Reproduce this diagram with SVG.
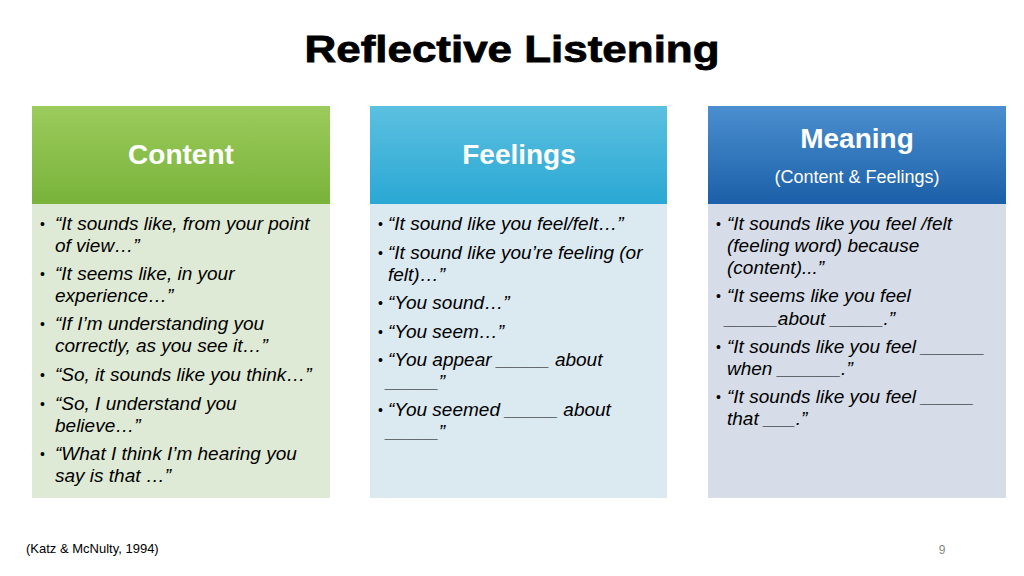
<svg xmlns="http://www.w3.org/2000/svg" width="1024" height="576" viewBox="0 0 1024 576">
<defs>
<linearGradient id="g1" x1="0" y1="0" x2="0" y2="1"><stop offset="0" stop-color="#9bcb5c"/><stop offset="1" stop-color="#79b33a"/></linearGradient>
<linearGradient id="g2" x1="0" y1="0" x2="0" y2="1"><stop offset="0" stop-color="#5cc0e0"/><stop offset="1" stop-color="#2aa8d4"/></linearGradient>
<linearGradient id="g3" x1="0" y1="0" x2="0" y2="1"><stop offset="0" stop-color="#4b8fd0"/><stop offset="1" stop-color="#1b5fa8"/></linearGradient>
</defs>
<style>
text{font-family:"Liberation Sans",Arial,sans-serif}
.h{font-size:28px;font-weight:bold;fill:#fff;text-anchor:middle}
.b{font-size:19px;font-style:italic;fill:#000}
.d{font-size:14px;fill:#000}
</style>
<rect width="1024" height="576" fill="#fff"/>
<text x="512" y="62" text-anchor="middle" textLength="415" lengthAdjust="spacingAndGlyphs" style="font-size:37px;font-weight:bold;fill:#000;stroke:#000;stroke-width:0.8">Reflective Listening</text>
<g id="content">
<rect x="32" y="106" width="298" height="98" fill="url(#g1)"/>
<rect x="32" y="204" width="298" height="294" fill="#dfead6"/>
<text class="h" x="181" y="164">Content</text>
<g class="d"><text x="40" y="229">•</text><text x="40" y="279">•</text><text x="40" y="329">•</text><text x="40" y="380">•</text><text x="40" y="409">•</text><text x="40" y="459">•</text></g>
<text class="b"><tspan x="55" y="230">“It sounds like, from your point</tspan><tspan x="55" y="252">of view…”</tspan><tspan x="55" y="280">“It seems like, in your</tspan><tspan x="55" y="302">experience…”</tspan><tspan x="55" y="330">“If I’m understanding you</tspan><tspan x="55" y="352">correctly, as you see it…”</tspan><tspan x="55" y="381">“So, it sounds like you think…”</tspan><tspan x="55" y="410">“So, I understand you</tspan><tspan x="55" y="432">believe…”</tspan><tspan x="55" y="460">“What I think I’m hearing you</tspan><tspan x="55" y="482">say is that …”</tspan></text>
</g>
<g id="feelings">
<rect x="370" y="106" width="297" height="98" fill="url(#g2)"/>
<rect x="370" y="204" width="297" height="294" fill="#dbe9f1"/>
<text class="h" x="519" y="164">Feelings</text>
<g class="d"><text x="378" y="229">•</text><text x="378" y="258">•</text><text x="378" y="308">•</text><text x="378" y="337">•</text><text x="378" y="365">•</text><text x="378" y="415">•</text></g>
<text class="b"><tspan x="388" y="230">“It sound like you feel/felt…”</tspan><tspan x="388" y="259">“It sound like you’re feeling (or</tspan><tspan x="388" y="281">felt)…”</tspan><tspan x="388" y="309">“You sound…”</tspan><tspan x="388" y="338">“You seem…”</tspan><tspan x="388" y="366">“You appear _____ about</tspan><tspan x="386" y="388">_____”</tspan><tspan x="388" y="416">“You seemed  _____ about</tspan><tspan x="386" y="438">_____”</tspan></text>
</g>
<g id="meaning">
<rect x="708" y="106" width="298" height="98" fill="url(#g3)"/>
<rect x="708" y="204" width="298" height="294" fill="#d6dde8"/>
<text class="h" x="857" y="148">Meaning</text>
<text x="857" y="183" text-anchor="middle" style="font-size:18px;fill:#fff">(Content &amp; Feelings)</text>
<g class="d"><text x="716" y="229">•</text><text x="716" y="301">•</text><text x="716" y="352">•</text><text x="716" y="402">•</text></g>
<text class="b"><tspan x="727" y="230">“It sounds like you feel /felt</tspan><tspan x="727" y="252">(feeling word) because</tspan><tspan x="727" y="274">(content)...”</tspan><tspan x="727" y="302">“It seems like you feel</tspan><tspan x="725" y="325">_____about _____.”</tspan><tspan x="727" y="353">“It sounds like you feel ______</tspan><tspan x="727" y="375">when ______.”</tspan><tspan x="727" y="403">“It sounds like you feel _____</tspan><tspan x="727" y="425">that ___.”</tspan></text>
</g>
<text x="26" y="553" style="font-size:13px;fill:#000">(Katz &amp; McNulty, 1994)</text>
<text x="942" y="554" text-anchor="middle" style="font-size:12px;fill:#888">9</text>
</svg>
